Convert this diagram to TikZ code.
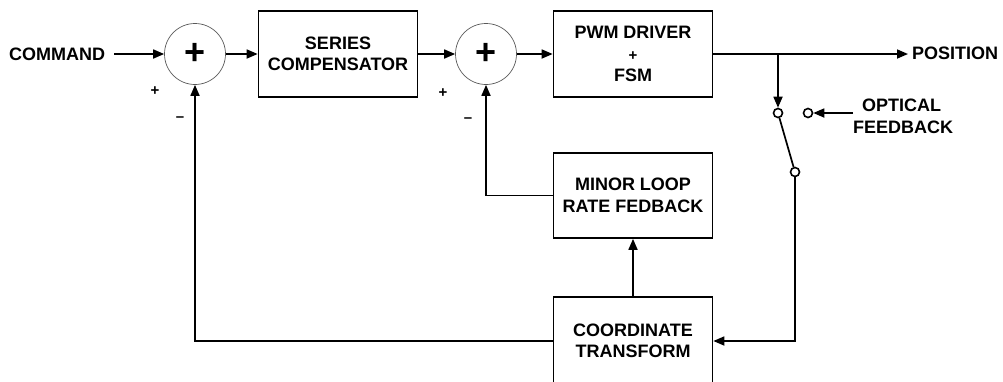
\documentclass[tikz,border=0pt]{standalone}
\usepackage{fontspec}
\setmainfont{Liberation Sans}
\usetikzlibrary{arrows.meta}
\begin{document}
\begin{tikzpicture}[x=1pt,y=-1pt,
  blk/.style={draw, line width=1.7pt, minimum width=159pt, minimum height=86pt, inner sep=0pt, align=center, font=\bfseries\fontsize{18}{21.5}\selectfont},
  sumc/.style={circle, draw=black!65, line width=0.7pt, minimum size=61pt, inner sep=0pt, font=\bfseries\fontsize{36}{36}\selectfont},
  lbl/.style={inner sep=0pt, font=\bfseries\fontsize{15}{15}\selectfont},
  txt/.style={inner sep=0pt, align=left, font=\bfseries\fontsize{18}{22}\selectfont},
  ln/.style={line width=1.7pt},
  arr/.style={line width=1.7pt, -{Triangle[length=11pt,width=9pt]}},
  term/.style={circle, draw, line width=1.6pt, fill=white, minimum size=9pt, inner sep=0pt}]
\useasboundingbox (0,0) rectangle (1003,381);
\clip (0,0) rectangle (1003,381);

\node[txt, anchor=west] (cmd) at (9,54) {COMMAND};
\node[sumc] (s1) at (195,54) {+};
\node[blk] (sc) at (338,54) {SERIES\\COMPENSATOR};
\node[sumc] (s2) at (486,54) {+};
\node[blk] (pwm) at (633,54) {PWM DRIVER\\{\fontsize{15}{15}\selectfont +}\\FSM};
\node[blk, minimum height=85pt] (mlr) at (633,195.5) {MINOR LOOP\\RATE FEDBACK};
\node[blk, minimum height=88pt] (ct) at (633,341) {COORDINATE\\TRANSFORM};
\node[txt, anchor=west] (pos) at (912,53) {POSITION};
\node[txt, anchor=west] (opt) at (853,116) {\hspace*{9pt}OPTICAL\\FEEDBACK};

\node[lbl] (p1) at (155,91) {+};
\node[lbl] (m1) at (180,119) {\textendash};
\node[lbl] (p2) at (443,93) {+};
\node[lbl] (m2) at (468,120) {\textendash};

\coordinate (br) at (778,54);
\node[term] (swa) at (778,113) {};
\node[term] (swb) at (795,172) {};
\node[term] (swo) at (808,113) {};

\draw[arr, shorten <=9pt] (cmd.east) -- (s1.west);
\draw[arr] (s1) -- (sc);
\draw[arr] (sc) -- (s2);
\draw[arr] (s2) -- (pwm);
\draw[arr, shorten >=4pt] (pwm.east |- br) -- (pos.west |- br);
\draw[arr] (br) -- (swa.north);
\draw[ln] (swa) -- (swb);
\draw[arr] (swb.south) |- (ct.east);
\draw[arr] (opt.west |- swo) -- (swo.east);
\draw[arr] (ct.west) -| (s1.south);
\draw[arr] (mlr.west) -| (s2.south);
\draw[arr] (ct.north) -- (mlr.south);
\end{tikzpicture}
\end{document}
